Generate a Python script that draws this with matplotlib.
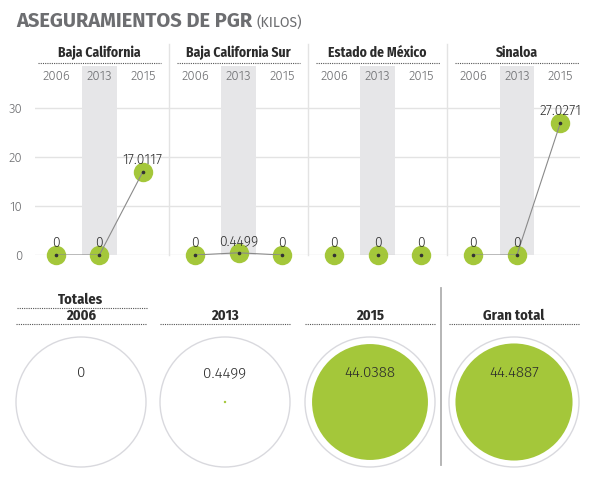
import matplotlib
matplotlib.use('Agg')
import matplotlib.pyplot as plt
from matplotlib.patches import Circle, Rectangle
from matplotlib.lines import Line2D

# data (kilos)
states = ['Baja California', 'Baja California Sur', 'Estado de México', 'Sinaloa']
years = ['2006', '2013', '2015']
values = [
	[0, 0, 17.0117],
	[0, 0.4499, 0],
	[0, 0, 0],
	[0, 0, 27.0271],
]
value_labels = [
	['0', '0', '17.0117'],
	['0', '0.4499', '0'],
	['0', '0', '0'],
	['0', '0', '27.0271'],
]
y_ticks = [0, 10, 20, 30]
total_titles = ['2006', '2013', '2015', 'Gran total']
totals = [0, 0.4499, 44.0388, 44.4887]
total_labels = ['0', '0.4499', '44.0388', '44.4887']
ring_max = 49.4  # value drawn as the outer ring

GREEN = '#a4c73a'
GRAY = '#6d6e71'
DARK = '#2b2b2b'
BOLD = ['Fira Sans Condensed', 'DejaVu Sans']
LIGHT = ['Fira Sans', 'DejaVu Sans']

W, H = 595, 484
fig = plt.figure(figsize=(W / 100, H / 100), dpi=100)


def fbox(x0, y0, x1, y1):
	'''pixel box (top-left origin) -> figure fraction rect'''
	return [x0 / W, 1 - y1 / H, (x1 - x0) / W, (y1 - y0) / H]


# overlay in pixel coords for texts and dotted rules
over = fig.add_axes([0, 0, 1, 1])
over.set_xlim(0, W)
over.set_ylim(H, 0)
over.axis('off')

title = over.text(16, 21, 'ASEGURAMIENTOS DE PGR', fontsize=14.5, fontweight='bold',
	color=GRAY, va='center', ha='left', family=LIGHT)
over.annotate('(KILOS)', xy=(1, 0), xycoords=title, xytext=(3, 0.5),
	textcoords='offset points', fontsize=10, color=GRAY, va='bottom', ha='left',
	family=LIGHT)

# top chart
step = 3.2
ax = fig.add_axes(fbox(35, 66, 580, 255), zorder=2)
ax.patch.set_alpha(0)
ax.set_xlim(-0.48, 12.05)
ax.set_ylim(0, 38.6)
for s in ax.spines.values():
	s.set_visible(False)
ax.set_xticks([])
ax.set_yticks(y_ticks)
ax.tick_params(axis='y', length=0, pad=9, labelsize=9.5, labelcolor=GRAY)
for lab in ax.get_yticklabels():
	lab.set_family(LIGHT)
	lab.set_fontweight(300)
for t in y_ticks:
	ax.axhline(t, color='#e3e3e3', lw=1, zorder=0)

for i, state in enumerate(states):
	xs = [i * step + j for j in range(3)]
	ax.add_patch(Rectangle((xs[1] - 0.4, 0), 0.8, 38.6, color='#e6e6e8', lw=0, zorder=0))
	if i > 0:
		ax.add_line(Line2D([i * step - 0.6] * 2, [0, 43], color='#e3e3e3', lw=1,
			clip_on=False, zorder=0))
	ax.plot(xs, values[i], color='#8a8a8a', lw=0.8, zorder=3)
	ax.plot(xs, values[i], 'o', ms=14, color=GREEN, mec='none', zorder=2, clip_on=False)
	ax.plot(xs, values[i], 'o', ms=1.6, color='#333333', zorder=4, clip_on=False)
	for x, v, lab in zip(xs, values[i], value_labels[i]):
		ax.text(x, v + 2.5, lab, ha='center', va='center', fontsize=10, color=DARK,
			family=LIGHT, fontweight=300, zorder=5)
	cx = i * step + 1
	ax.text(cx, 41.3, state, ha='center', va='center', fontsize=9.8, fontweight='bold',
		color=DARK, family=BOLD, clip_on=False)
	ax.add_line(Line2D([cx - 1.42, cx + 1.42], [39.3, 39.3], color='#555555', lw=0.8,
		ls=(0, (1, 1)), clip_on=False))
	for x, y in zip(xs, years):
		ax.text(x, 36.6, y, ha='center', va='center', fontsize=9.5, color=GRAY,
			family=LIGHT, fontweight=300, clip_on=False)

# bottom totals
centers = [81, 225, 370, 514]
ring_r = 65
over.text(81, 300, 'Totales', ha='center', va='center', fontsize=10.5, fontweight='bold',
	color=DARK, family=BOLD)
over.plot([17, 147], [307.5, 307.5], color='#555555', lw=0.8, ls=(0, (1, 1)))
for cx, t, v, lab in zip(centers, total_titles, totals, total_labels):
	over.text(cx, 316, t, ha='center', va='center', fontsize=10.5, fontweight='bold',
		color=DARK, family=BOLD)
	over.plot([cx - 65, cx + 65], [324, 324], color='#555555', lw=0.8, ls=(0, (1, 1)))
	over.add_patch(Circle((cx, 402), ring_r, fill=False, ec='#d9d9de', lw=1))
	r = v / ring_max * ring_r
	if r > 0:
		over.add_patch(Circle((cx, 402), max(r, 1.2), color=GREEN, lw=0))
	over.text(cx, 373, lab, ha='center', va='center', fontsize=11, color=DARK,
		family=LIGHT, fontweight=300)
over.plot([441, 441], [288, 465], color='#b0b0b0', lw=1.3)

fig.savefig('out.png', dpi=100)
